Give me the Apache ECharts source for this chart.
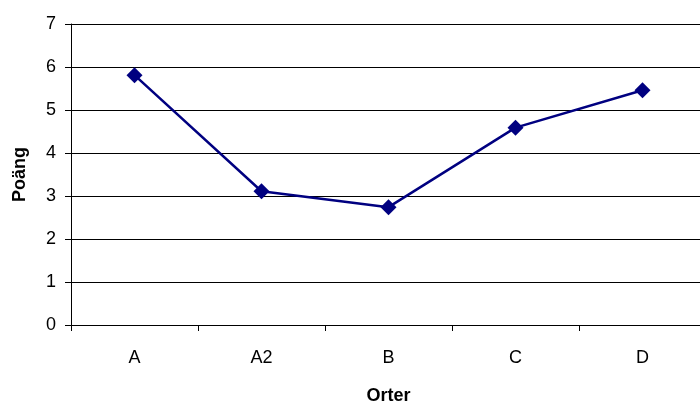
<!DOCTYPE html>
<html>
<head>
<meta charset="utf-8">
<script src="https://cdn.jsdelivr.net/npm/echarts@6/dist/echarts.min.js"></script>
<style>
  html, body { margin: 0; padding: 0; background: #fff; }
  #chart { width: 700px; height: 403px; }
</style>
</head>
<body>
<div id="chart"></div>
<script>
// Places and their scores
const orter = ['A', 'A2', 'B', 'C', 'D'];
const poang = [5.81, 3.11, 2.74, 4.59, 5.46];

const FONT = '"Liberation Sans", Arial, sans-serif';

const chart = echarts.init(document.getElementById('chart'), null, { renderer: 'canvas' });
chart.setOption({
  animation: false,
  grid: {
    left: 71, right: -6, top: 24, bottom: 78,
    containLabel: false,
    outerBoundsMode: 'none'
  },
  xAxis: {
    type: 'category',
    data: orter,
    boundaryGap: true,
    name: 'Orter',
    nameLocation: 'middle',
    nameGap: 62,
    nameTextStyle: { fontFamily: FONT, fontSize: 18, fontWeight: 'bold', color: '#000' },
    axisLine: { lineStyle: { color: '#000', width: 1 } },
    axisTick: { show: true, alignWithLabel: false, length: 6, lineStyle: { color: '#000' } },
    axisLabel: { fontFamily: FONT, fontSize: 18, color: '#000', margin: 24 },
    splitLine: { show: false }
  },
  yAxis: {
    type: 'value',
    min: 0,
    max: 7,
    interval: 1,
    name: 'Poäng',
    nameLocation: 'middle',
    nameGap: 42,
    nameRotate: 90,
    nameTextStyle: { fontFamily: FONT, fontSize: 18, fontWeight: 'bold', color: '#000' },
    axisLine: { show: true, lineStyle: { color: '#000', width: 1 } },
    axisTick: { show: true, length: 6, lineStyle: { color: '#000' } },
    axisLabel: { fontFamily: FONT, fontSize: 18, color: '#000', margin: 15 },
    splitLine: { show: true, lineStyle: { color: '#000', width: 1 } }
  },
  series: [{
    type: 'line',
    data: poang,
    symbol: 'diamond',
    symbolSize: 16,
    lineStyle: { color: '#000080', width: 2.5 },
    itemStyle: { color: '#000080' }
  }]
});
</script>
</body>
</html>
